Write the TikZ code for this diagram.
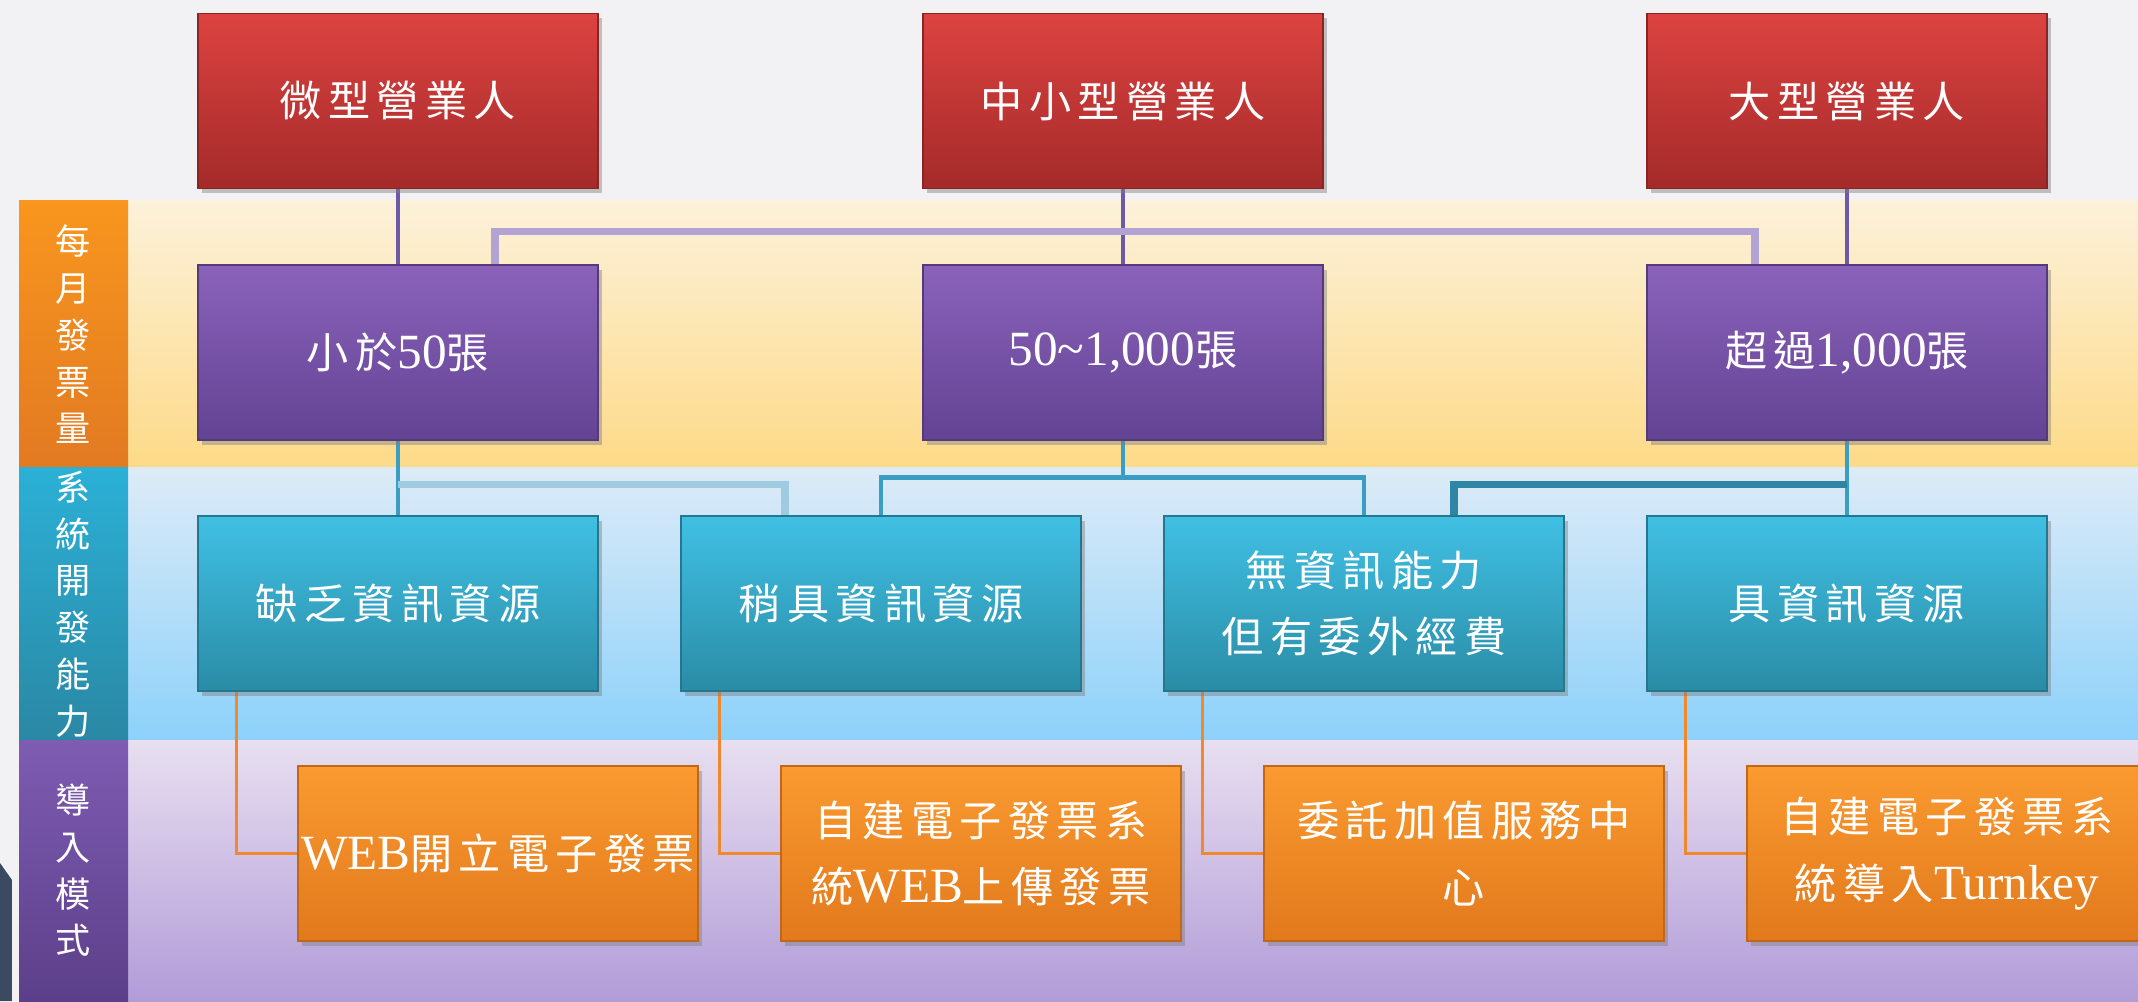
\documentclass[tikz,border=0pt]{standalone}
\usepackage{fontspec}
\newfontfamily\cjk[LetterSpace=15]{Noto Sans CJK TC}
\newfontfamily\lat{Liberation Serif}
\newcommand\en[1]{{\lat\fontsize{14}{19}\selectfont #1}}
\usetikzlibrary{backgrounds,shadows}
\definecolor{bgc}{HTML}{F2F2F4}
\definecolor{redT}{HTML}{DC4340}\definecolor{redB}{HTML}{A42A2A}
\definecolor{purT}{HTML}{8A62BA}\definecolor{purB}{HTML}{634393}
\definecolor{cyaT}{HTML}{40C0E4}\definecolor{cyaB}{HTML}{2A8CA6}
\definecolor{oraT}{HTML}{FA9A30}\definecolor{oraB}{HTML}{E2791C}
\definecolor{yelT}{HTML}{FCF1DA}\definecolor{yelB}{HTML}{FDDA88}
\definecolor{yelCT}{HTML}{F8961E}\definecolor{yelCB}{HTML}{E27A22}
\definecolor{bluT}{HTML}{DDEBF7}\definecolor{bluB}{HTML}{8DD1FA}
\definecolor{bluCT}{HTML}{2BB0D6}\definecolor{bluCB}{HTML}{2A88A4}
\definecolor{lavT}{HTML}{E8DFF0}\definecolor{lavB}{HTML}{B29CD8}
\definecolor{lavCT}{HTML}{7E5CB2}\definecolor{lavCB}{HTML}{5C3F8A}
\definecolor{lnPur}{HTML}{6E58A8}\definecolor{lnLPur}{HTML}{B3A3D3}
\definecolor{lnCya}{HTML}{3A9DC4}\definecolor{lnLCya}{HTML}{9ECBE0}
\definecolor{lnTeal}{HTML}{2F86A4}\definecolor{lnOra}{HTML}{F0892E}
\definecolor{slate}{HTML}{3A4A60}
\tikzset{
  box/.style={minimum width=4cm, minimum height=1.75cm, inner sep=0pt, align=center,
    text=white, font=\cjk\fontsize{12}{19}\selectfont, draw=#1B!85!black, line width=.3pt,
    top color=#1T, bottom color=#1B,
    drop shadow={opacity=.45, shadow xshift=.04cm, shadow yshift=-.05cm}},
  lab/.style={text=white, inner sep=0pt, align=center, font=\cjk\fontsize{10}{13.3}\selectfont},
  link/.style={draw=#1, line width=1.1pt},
  thick link/.style={draw=#1, line width=2.2pt}
}
\begin{document}
\begin{tikzpicture}
\useasboundingbox (0,0) rectangle (21.38,10.01);
\foreach \x/\n/\t in {3.98/r1/微型營業人,11.23/r2/中小型營業人,18.47/r3/大型營業人}
  \node[box=red] (\n) at (\x,9) {\t};
\foreach \x/\n/\t in {3.98/p1/{小於\en{50}張},11.23/p2/{\en{50\textasciitilde 1,000}張},18.47/p3/{超過\en{1,000}張}}
  \node[box=pur] (\n) at (\x,6.485) {\t};
\foreach \x/\t [count=\i] in {3.98/缺乏資訊資源,8.81/稍具資訊資源,13.64/無資訊能力\\但有委外經費,18.47/具資訊資源}
  \node[box=cya] (c\i) at (\x,3.975) {\t};
\foreach \x/\t [count=\i] in {4.98/{\en{WEB}開立電子發票},9.81/{自建電子發票系\\統\en{WEB}上傳發票},14.64/委託加值服務中\\心,19.47/{自建電子發票系\\統導入\en{Turnkey}}}
  \node[box=ora] (o\i) at (\x,1.475) {\t};

\begin{scope}[on background layer]
\fill[bgc] (0,0) rectangle (21.38,10.01);
\foreach \ya/\yb/\clr/\A [count=\i] in {5.33/8/yel/每\\月\\發\\票\\量,2.61/5.33/blu/系\\統\\開\\發\\能\\力,0/2.61/lav/導\\入\\模\\式} {%
  \shade[top color=\clr T, bottom color=\clr B] (1.28,\ya) rectangle (21.38,\yb);
  \shade[top color=\clr CT, bottom color=\clr CB] (.19,\ya) rectangle (1.28,\yb);
  \node[lab] (l\i) at (.73,{(\ya+\yb)/2}) {\A};
}
\fill[slate] (0,0) -- (0,1.38) -- (.12,1.21) -- (.12,0) -- cycle;

\foreach \i in {1,2,3} \draw[link=lnPur] (r\i) -- (p\i);
\draw[thick link=lnLPur] ([xshift=.97cm]p1.north) -- ++(0,.33) -| ([xshift=-.92cm]p3.north);
\draw[link=lnCya] (p1) -- (c1);
\draw[link=lnCya] (p3) -- (c4);
\draw[thick link=lnLCya] (c1.north) ++(0,.31) -| ([xshift=-.96cm]c2.north);
\draw[link=lnCya, line width=1.4pt] (p2.south) -- ++(0,-.37) coordinate (m2);
\draw[link=lnCya, line width=1.4pt] (c2.north) |- (m2) -| (c3.north);
\draw[thick link=lnTeal] (c4.north) ++(0,.31) -| ([xshift=.9cm]c3.north);
\foreach \i in {1,...,4} \draw[link=lnOra] ([xshift=.39cm]c\i.south west) |- (o\i.west);
\end{scope}
\end{tikzpicture}
\end{document}
